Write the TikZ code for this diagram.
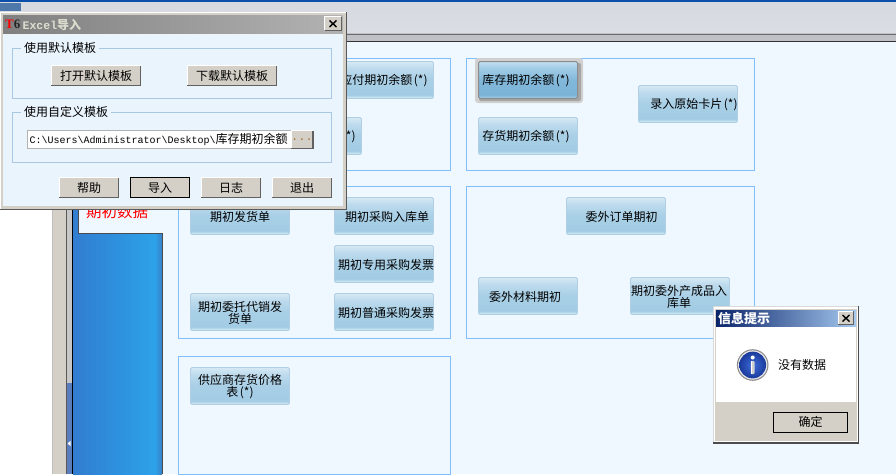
\documentclass[tikz,border=0pt]{standalone}
\usepackage{fontspec}
\setmainfont{Noto Sans CJK SC}
\newfontfamily\latinmono{Liberation Mono}
\newfontfamily\latinserif{Liberation Serif}
\definecolor{pagebg}{HTML}{F0F8FF}
\definecolor{dlgbg}{HTML}{EAF4FD}
\definecolor{beige}{HTML}{D4D0C8}
\definecolor{panelline}{HTML}{7FBFFF}
\definecolor{groupline}{HTML}{A9C6E3}
\definecolor{btnline}{HTML}{B0CFE5}
\definecolor{bt1}{RGB}{222,238,248}
\definecolor{bt2}{RGB}{162,204,228}
\definecolor{bt3}{RGB}{168,207,230}
\definecolor{bt4}{RGB}{190,219,237}
\definecolor{bt5}{RGB}{214,233,245}
\definecolor{ft1}{RGB}{170,208,232}
\definecolor{ft2}{RGB}{122,178,214}
\definecolor{ft3}{RGB}{130,184,218}
\definecolor{ft4}{RGB}{160,204,230}
\definecolor{ft5}{RGB}{196,224,242}
\definecolor{pa1}{RGB}{50,125,208}
\definecolor{pa2}{RGB}{46,145,222}
\definecolor{pa3}{RGB}{45,162,232}
\definecolor{pa4}{RGB}{56,128,200}
\definecolor{topstrip}{RGB}{78,120,170}
\definecolor{topblue}{RGB}{10,80,170}
\definecolor{scrollblue}{RGB}{90,125,190}
\definecolor{ictr}{RGB}{62,108,218}
\definecolor{iout}{RGB}{26,58,155}
\definecolor{tit1}{RGB}{10,36,106}
\definecolor{tit2}{RGB}{166,202,240}
\definecolor{headA}{RGB}{214,218,224}
\definecolor{headB}{RGB}{218,222,228}
\definecolor{headC}{RGB}{190,194,198}
\definecolor{titletext}{RGB}{222,222,208}
\definecolor{dotbrown}{RGB}{170,120,60}
\pgfdeclareverticalshading{bluebtn}{100bp}{
 color(0bp)=(bt1);
 color(25bp)=(bt1);
 color(30bp)=(bt2);
 color(50bp)=(bt3);
 color(66bp)=(bt4);
 color(75bp)=(bt5);
 color(100bp)=(bt5)}
\pgfdeclareverticalshading{focusbtn}{100bp}{
 color(0bp)=(ft1);
 color(25bp)=(ft1);
 color(30bp)=(ft2);
 color(50bp)=(ft3);
 color(66bp)=(ft4);
 color(75bp)=(ft5);
 color(100bp)=(ft5)}
\pgfdeclarehorizontalshading{bluepane}{100bp}{
 color(0bp)=(pa1);
 color(25bp)=(pa1);
 color(50bp)=(pa2);
 color(71bp)=(pa3);
 color(75bp)=(pa4);
 color(100bp)=(pa4)}
\tikzset{
 txt/.style={font=\fontsize{12}{12}\selectfont,inner sep=0pt,align=center,text=black},
 bluebutton/.style={draw=btnline,line width=.9pt,rounded corners=1.5pt,shading=bluebtn,
   minimum width=99pt,minimum height=37pt,inner sep=0pt},
 focusbutton/.style={bluebutton,draw=black!45,line width=1pt,shading=focusbtn},
 panel/.style={draw=panelline,line width=1pt,fill=pagebg},
 group/.style={draw=groupline,line width=.9pt},
 grouptitle/.style={txt,fill=dlgbg,inner xsep=3pt,inner ysep=1pt},
 winbutton/.style={txt,fill=beige,draw=none},
 lowline/.style={draw=black!62,line width=1.2pt},
 highline/.style={draw=white,line width=1pt},
}
\newcommand{\reqmark}{\hspace{1.5pt}(*)}
% \bluebtn[style]{name}{left}{top}{text x-offset}{text}
\newcommand{\bluebtn}[6][bluebutton]{%
 \node[#1,label={[txt,xshift=#5,yshift=-.5pt]center:#6}] (#2) at (#3+50,#4+19) {};}
% \winbtn{name}{x1}{y1}{x2}{y2}{text}
\newcommand{\winbtn}[6]{%
 \node[winbutton,minimum width=#4pt-#2pt,minimum height=#5pt-#3pt] (#1) at ({(#2+#4)/2},{(#3+#5)/2}) {#6};
 \draw[highline] (#1.south west) -- (#1.north west) -- (#1.north east);
 \draw[lowline] (#1.south west) -- (#1.south east) -- (#1.north east);}
\begin{document}
\begin{tikzpicture}[x=1pt,y=-1pt]
\useasboundingbox (0,0) rectangle (896,474);
% page background
\fill[pagebg] (0,0) rectangle (896,474);
\fill[white] (0,0) rectangle (52,474);
% header band
\fill[top color=headA,bottom color=headB] (0,2) rectangle (896,33);
\fill[headC] (0,33) rectangle (896,41);
\draw[black!58,line width=1.2pt] (0,34.5) -- (896,34.5);
\draw[black!80,line width=1pt] (0,41.5) -- (896,41.5);
\fill[topblue] (0,0) rectangle (896,1.6);
\fill[topstrip] (0,2.5) rectangle (21,11);
% left strip
\fill[beige] (52,42) rectangle (66,474);
\draw[black!25,line width=.8pt] (52.5,42) -- (52.5,474);
\fill[black!22] (67,42) rectangle (72,383);
\fill[scrollblue] (67,383) rectangle (72,474);
\fill[white] (67.5,443.5) -- (70.5,441) -- (70.5,446) -- cycle;
\draw[black!65,line width=1pt] (66.5,42) -- (66.5,474);
\draw[black,line width=1pt] (72.5,42) -- (72.5,474);
% blue side pane and tab
\fill[shading=bluepane] (73,42) rectangle (162,474);
\draw[black!70,line width=1pt] (162.5,233) -- (162.5,474);
\fill[pagebg] (79,42) rectangle (163,233);
\draw[black!70,line width=1pt] (78.5,42) -- (78.5,233.5) -- (163,233.5);
\node[txt,font=\fontsize{15.5}{16}\selectfont,text=red] (tabtext) at (117,211.5) {期初数据};
% panels
\draw[panel] (178.5,58.5) rectangle (450.5,170.5);
\draw[panel] (466.5,58.5) rectangle (754.5,170.5);
\draw[panel] (178.5,186.5) rectangle (450.5,338.5);
\draw[panel] (466.5,186.5) rectangle (754.5,338.5);
\draw[panel] (178.5,356.5) -- (450.5,356.5) -- (450.5,474.5) -- (178.5,474.5) -- cycle;
% panel buttons
\bluebtn{bpay}{334}{61}{0pt}{应付期初余额\reqmark}
\bluebtn{bother}{262}{117}{0pt}{应收期初余额\reqmark}
\fill[black!18,rounded corners=3pt] (475,58) rectangle (583,103);
\fill[black!35,rounded corners=2pt] (479,63) rectangle (581,101);
\bluebtn[focusbutton]{bstock}{478}{61}{-2pt}{库存期初余额\reqmark}
\bluebtn{binv}{478}{117}{-2pt}{存货期初余额\reqmark}
\bluebtn{bcard}{638}{85}{6pt}{录入原始卡片\reqmark}
\bluebtn{bship}{190}{197}{0pt}{期初发货单}
\bluebtn{bpurch}{334}{197}{3pt}{期初采购入库单}
\bluebtn{bspec}{334}{245}{2pt}{期初专用采购发票}
\bluebtn{bcons}{190}{293}{0pt}{期初委托代销发\\货单}
\bluebtn{bnorm}{334}{293}{2pt}{期初普通采购发票}
\bluebtn{bprice}{190}{367}{0pt}{供应商存货价格\\表\reqmark}
\bluebtn{bsub}{566}{197}{5.5pt}{委外订单期初}
\bluebtn{bmat}{478}{277}{-3pt}{委外材料期初}
\bluebtn{bprod}{630}{277}{-1pt}{期初委外产成品入\\库单}
% Excel import dialog
\fill[black!65] (0,12) rectangle (347,210);
\fill[white] (0,12) rectangle (345.5,208.5);
\fill[beige] (1,13) rectangle (345.5,208.5);
\fill[dlgbg] (3,33) rectangle (343,206);
\fill[left color=black!50,right color=black!30] (3,15) rectangle (343,33);
\node[inner sep=0pt,anchor=west] (tlogo) at (5,24.5) {\latinserif\bfseries\fontsize{13}{13}\selectfont\textcolor{red}{T}\textcolor{black!85}{6}};
\node[inner sep=0pt,anchor=west,text=titletext] (ttitle) at (22.5,24.5) {\fontsize{12}{12}\selectfont{\latinmono\bfseries\fontsize{11.5}{12}\selectfont Excel}\bfseries 导入};
\winbtn{dclose}{325}{17}{341}{30}{}
\draw[black,line width=1.4pt] (329.5,20.5) -- (336.5,27) (336.5,20.5) -- (329.5,27);
\draw[group] (12.5,48.5) rectangle (331.5,98.5);
\node[grouptitle] (g1) at (60,48) {使用默认模板};
\draw[group] (12.5,112.5) rectangle (331.5,162.5);
\node[grouptitle] (g2) at (66,112) {使用自定义模板};
\winbtn{bopen}{51.5}{66}{140.5}{85.5}{打开默认模板}
\winbtn{bdown}{187.5}{66}{276.5}{85.5}{下载默认模板}
\node[fill=white,draw=black!30,line width=.7pt,minimum width=264pt,minimum height=18pt,inner sep=0pt] (path) at (159,139.5) {};
\node[txt,anchor=west] (pathtext) at (29.5,139.5) {{\latinmono\fontsize{10}{12}\selectfont C:\textbackslash Users\textbackslash Administrator\textbackslash Desktop\textbackslash}库存期初余额};
\winbtn{bdots}{292}{131}{312}{148}{\latinmono\textcolor{dotbrown}{...}}
\winbtn{bhelp}{59.5}{178}{118.5}{197.5}{帮助}
\winbtn{bimp}{130.5}{178}{189.5}{197.5}{导入}
\draw[black,line width=1pt] (bimp.south west) rectangle (bimp.north east);
\winbtn{blog}{201.5}{178}{260.5}{197.5}{日志}
\winbtn{bexit}{272.5}{178}{331.5}{197.5}{退出}
% message dialog
\fill[black!70] (713,306) rectangle (859,443.5);
\fill[black!15] (713,306) rectangle (858,442);
\fill[white] (714,307) rectangle (857.5,441.5);
\fill[beige] (715,309) rectangle (856.5,441);
\fill[left color=tit1,right color=tit2] (716,310) rectangle (856,327);
\node[inner sep=0pt,anchor=west,text=white,font=\fontsize{13}{13}\selectfont\bfseries] (mtitle) at (718,318.5) {信息提示};
\winbtn{mclose}{838.5}{311.5}{853.5}{324.5}{}
\draw[black,line width=1.4pt] (842.5,315) -- (849.5,321.5) (849.5,315) -- (842.5,321.5);
\fill[white] (716,327) rectangle (856,402);
\fill[black!45] (752.7,365) circle (15.8pt);
\fill[black!8] (752.7,365) circle (14.6pt);
\shade[inner color=ictr,outer color=iout] (752.7,365) circle (13.4pt);
\fill[black!18,rounded corners=1pt] (750.9,361) rectangle (754.5,374);
\fill[white] (750.9,361) rectangle (752.4,373.5);
\fill[white] (752.7,357.5) circle (2pt);
\node[txt,anchor=west] (mtext) at (778,364.5) {没有数据};
\winbtn{mok}{773.5}{412.5}{847.5}{432}{确定}
\draw[black,line width=1pt] (mok.south west) rectangle (mok.north east);
\end{tikzpicture}
\end{document}
